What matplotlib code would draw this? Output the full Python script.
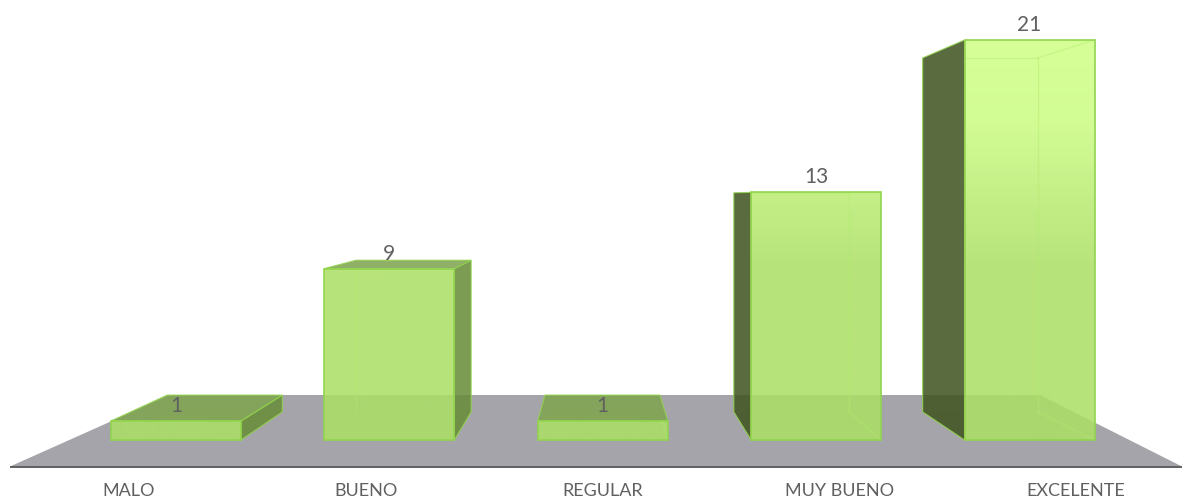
import numpy as np
import matplotlib
matplotlib.use("Agg")
import matplotlib.pyplot as plt
from matplotlib.patches import Polygon

categories = ["MALO", "BUENO", "REGULAR", "MUY BUENO", "EXCELENTE"]
values = [1, 9, 1, 13, 21]

W, H = 1182, 498
plt.rcParams['font.family'] = ['Lato', 'DejaVu Sans']
TEXT = '#606060'

# scene geometry (pixel-space projection)
BASE_Y = 440.0
UNIT = 400.0 / 21
BAR_W = 130.0
CENTER0, STEP = 176.0, 213.4
VX, VY, S = 600.0, 196.0, 0.885
LABEL0, LABEL_STEP = 129.0, 236.8
A = 0.87


def back(p):
    return (VX + S * (p[0] - VX), VY + S * (p[1] - VY))


def rgb(*c):
    return tuple(x / 255 for x in c)


FRONT_TOP = np.array([208, 255, 136]) / 255
FRONT_MID = np.array([172, 224, 102]) / 255
EDGE = rgb(146, 212, 78)
LEFT_C = rgb(65, 85, 34)
RIGHT_C = rgb(105, 141, 59)
TOP_C = rgb(127, 164, 79)
INNER = rgb(176, 236, 110)

fig = plt.figure(figsize=(W / 100, H / 100), dpi=100)
ax = fig.add_axes([0, 0, 1, 1])
ax.set_xlim(0, W)
ax.set_ylim(H, 0)
ax.axis('off')

# floor
ax.add_patch(Polygon([(10, 466.5), (1182, 466.5), (1040, 395), (170, 395)],
                     closed=True, fc=rgb(165, 164, 170), ec='none', zorder=1))
ax.plot([10, 1182], [466.5, 466.5], color='#5f5f5f', lw=1.4, zorder=2,
        solid_capstyle='butt')

for i, (cat, v) in enumerate(zip(categories, values)):
    cx = CENTER0 + i * STEP
    xl, xr = cx - BAR_W / 2, cx + BAR_W / 2
    yt = BASE_Y - v * UNIT
    fbl, fbr, ftr, ftl = (xl, BASE_Y), (xr, BASE_Y), (xr, yt), (xl, yt)
    bbl, bbr, btr, btl = back(fbl), back(fbr), back(ftr), back(ftl)
    z = 3 + i * 0.01

    # bottom face: faint darkening of the floor
    ax.add_patch(Polygon([fbl, fbr, bbr, bbl], closed=True,
                         fc=rgb(150, 190, 100), alpha=0.12, ec='none', zorder=z))
    # visible side
    if xr < VX:
        ax.add_patch(Polygon([fbr, bbr, btr, ftr], closed=True, fc=RIGHT_C,
                             alpha=A, ec=EDGE, lw=0.8, zorder=z + .001))
    if xl > VX:
        ax.add_patch(Polygon([fbl, bbl, btl, ftl], closed=True, fc=LEFT_C,
                             alpha=A, ec=EDGE, lw=0.8, zorder=z + .001))
    # visible top
    if yt > VY:
        ax.add_patch(Polygon([ftl, ftr, btr, btl], closed=True, fc=TOP_C,
                             alpha=A, ec=EDGE, lw=0.8, zorder=z + .002))

    # front face with vertical gradient
    rows = 200
    ys = np.linspace(yt, BASE_Y, rows)
    t = np.interp(ys, [40, 120, 192, 268], [0, 0.1, 0.55, 1])[:, None]
    col = FRONT_TOP * (1 - t) + FRONT_MID * t
    img = np.column_stack([col, np.full(rows, A)])[:, None, :]
    im = ax.imshow(img, extent=(xl, xr, BASE_Y, yt), aspect='auto', zorder=z + .003,
                   interpolation='bilinear')
    clip = Polygon([fbl, fbr, ftr, ftl], closed=True, transform=ax.transData)
    im.set_clip_path(clip)

    # see-through edges, visible only through the front face
    segs = [(btl, bbl), (btr, bbr), (btl, btr), (btl, ftl), (btr, ftr), (bbr, fbr)]
    for a, b in segs:
        line, = ax.plot([a[0], b[0]], [a[1], b[1]], color=INNER, lw=0.9, alpha=0.45,
                        zorder=z + .004)
        line.set_clip_path(Polygon([fbl, fbr, ftr, ftl], closed=True,
                                   transform=ax.transData))
    ax.add_patch(Polygon([fbl, fbr, ftr, ftl], closed=True, fc='none', ec=EDGE,
                         lw=1.2, zorder=z + .005))

    ax.text(cx, yt - 15, str(v), ha='center', va='center', fontsize=15,
            color=TEXT, zorder=9)
    ax.text(LABEL0 + i * LABEL_STEP, 491, cat, ha='center', va='center',
            fontsize=13, color=TEXT, zorder=9)

ax.set_xlim(0, W)
ax.set_ylim(H, 0)
fig.savefig('out.png', dpi=100, facecolor='white')
